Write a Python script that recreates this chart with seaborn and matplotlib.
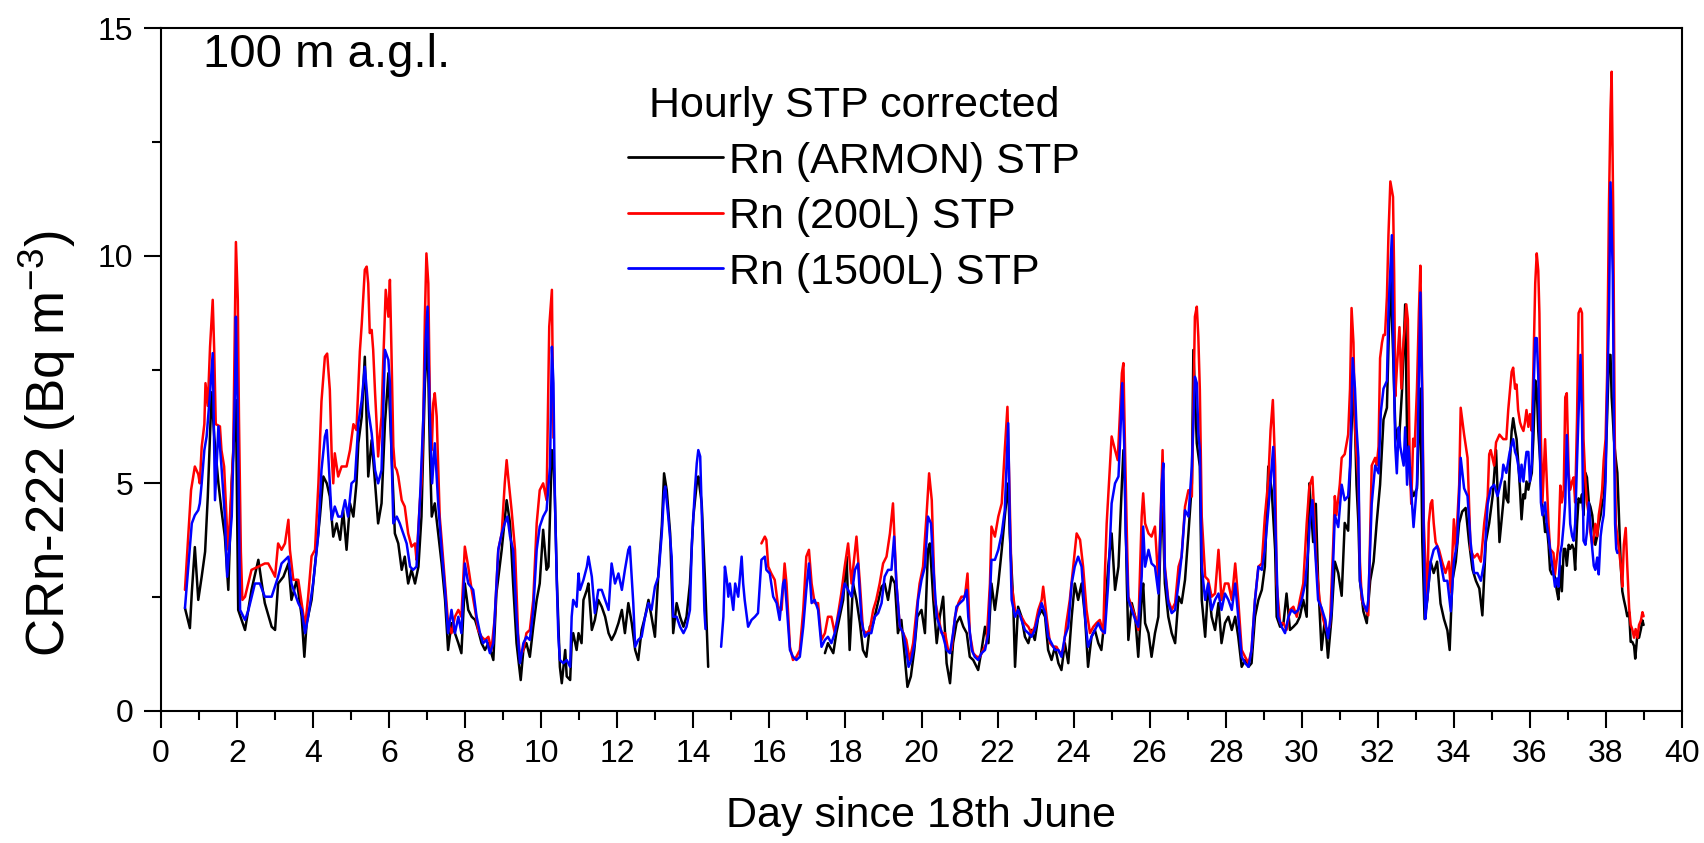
import numpy as np
import pandas as pd
import matplotlib
matplotlib.use("Agg")
import matplotlib.pyplot as plt
from matplotlib.ticker import MultipleLocator
import seaborn as sns

nan = np.nan

# ---------------- data ----------------
armon_day = [0.63,0.76,0.81,0.89,0.98,1.07,1.16,1.23,1.33,1.40,1.51,1.59,1.68,1.77,1.86,1.97,2.03,2.12,2.21,2.38,2.56,2.65,2.73,2.91,3.00,3.08,3.22,3.35,3.43,3.57,3.70,3.77,3.83,3.96,4.09,4.18,4.27,4.36,4.44,4.53,4.62,4.71,4.79,4.88,4.97,5.06,5.14,
    5.19,5.28,5.36,5.45,5.54,5.63,5.71,5.80,5.89,5.98,6.06,6.15,6.24,6.33,6.41,6.50,6.59,6.68,6.77,6.85,6.94,7.01,7.07,7.12,7.20,7.29,7.38,7.47,7.55,7.64,7.73,7.82,7.90,7.99,8.08,8.17,8.26,8.34,8.43,8.52,8.61,8.74,8.82,8.96,9.09,9.18,9.26,9.35,9.46,9.53,9.61,9.70,9.79,9.88,9.96,10.05,10.14,
    10.19,10.28,10.32,10.36,10.41,10.49,10.54,10.63,10.67,10.76,10.80,10.84,10.93,10.98,11.06,11.11,11.20,11.24,11.33,11.41,11.50,11.59,11.68,11.77,11.85,11.94,12.03,12.12,12.20,12.29,12.38,12.47,12.55,12.64,12.73,12.82,12.90,12.99,13.08,13.17,13.23,13.30,13.39,13.47,13.56,13.65,13.74,13.82,13.91,14.00,14.09,14.13,14.22,14.31,14.39,
    15.90,
    17.46,17.54,17.68,17.76,17.85,17.94,18.03,18.11,18.20,18.29,18.38,18.46,18.55,18.64,18.73,18.81,18.95,19.03,19.12,19.21,19.30,19.38,19.47,19.56,19.63,19.72,19.81,19.89,20.00,20.09,20.17,
    20.22,20.31,20.40,20.48,20.57,20.66,20.75,20.83,20.92,21.01,21.10,21.19,21.27,21.36,21.49,21.58,21.67,21.76,21.84,21.93,22.02,22.11,22.19,22.28,22.32,22.41,22.46,22.54,22.63,22.72,22.81,22.89,22.98,23.07,23.16,23.25,23.33,23.42,23.51,23.60,23.68,23.77,23.86,23.95,24.03,24.12,24.21,24.30,24.38,24.47,24.56,24.65,24.73,24.82,24.91,25.00,25.09,
    25.18,25.27,25.31,25.35,25.40,25.44,25.53,25.62,25.70,25.79,25.83,25.88,25.97,26.05,26.14,26.23,26.29,26.34,26.40,26.49,26.58,26.67,26.76,26.84,26.93,27.02,27.11,27.15,27.24,27.32,27.37,27.46,27.54,27.63,27.72,27.81,27.89,27.98,28.07,28.16,28.25,28.33,28.42,28.51,28.60,28.68,28.77,28.86,28.95,29.03,29.12,29.21,29.30,29.34,29.43,29.52,29.60,29.69,29.78,29.87,29.95,30.04,30.13,30.20,
    30.30,30.37,30.43,30.52,30.61,30.69,30.78,30.87,30.96,31.05,31.13,31.22,31.31,31.37,31.44,31.49,31.53,31.62,31.71,31.80,31.89,31.97,32.06,32.15,32.24,32.33,32.40,32.46,32.55,32.64,32.72,32.77,32.86,32.94,33.03,33.12,33.17,33.23,33.30,33.39,33.47,33.56,33.65,33.74,33.83,33.89,33.96,34.05,34.14,34.22,34.31,34.40,34.49,34.58,34.67,34.75,34.84,34.93,35.02,35.11,35.20,
    35.30,35.34,35.38,35.43,35.47,35.52,35.56,35.61,35.65,35.69,35.74,35.78,35.83,35.87,35.91,35.96,36.00,36.05,36.09,36.14,36.18,36.22,36.27,36.31,36.36,36.40,36.44,36.49,36.53,36.58,36.62,36.66,36.71,36.75,36.80,36.84,36.89,36.93,36.97,37.02,37.06,37.11,37.15,37.19,37.24,37.28,37.33,37.37,37.41,37.46,37.50,37.55,37.59,37.64,37.68,37.72,37.77,37.81,37.86,37.90,37.94,37.99,38.03,38.08,38.12,38.15,38.17,38.21,38.25,38.30,38.34,38.39,38.43,38.47,38.52,38.56,38.61,38.65,38.69,38.74,38.77,38.81,38.83,38.87,38.92,38.96,38.99]
armon_val = [2.26,1.82,2.6,3.6,2.44,2.95,3.5,4.7,7.0,6.03,5.0,4.41,3.83,2.66,5.0,6.83,2.22,2.0,1.78,2.66,3.32,2.8,2.37,1.85,1.78,2.8,2.95,3.24,2.44,2.88,2.07,1.19,1.93,2.44,3.54,4.27,5.15,5.0,4.71,3.83,4.12,3.76,4.41,3.54,4.56,4.27,5.0,
    5.88,6.47,7.78,5.15,5.95,5.0,4.12,4.56,6.32,7.42,5.73,3.9,3.68,3.1,3.39,2.8,3.1,2.8,3.17,4.27,7.2,8.22,5.73,4.27,4.56,3.9,3.24,2.44,1.34,1.93,1.71,1.49,1.27,2.8,2.22,2.07,2.0,1.78,1.49,1.34,1.49,1.12,2.58,3.54,4.63,4.12,2.8,1.49,0.68,1.34,1.49,1.19,1.85,2.44,2.8,3.98,3.1,
    3.17,5.73,5.6,4.63,2.88,0.97,0.61,1.34,0.76,0.68,1.49,1.71,1.34,1.71,1.49,2.44,2.66,2.8,1.78,2.0,2.44,2.29,2.07,1.71,1.56,1.71,1.93,2.22,1.71,2.37,1.93,1.34,1.12,1.78,2.07,2.44,2.07,1.63,3.02,4.05,5.22,4.85,3.9,1.71,2.37,2.07,1.85,2.07,2.8,4.27,5.0,5.15,4.56,2.8,0.97,
    nan,
    1.27,1.49,1.27,1.71,2.07,2.44,3.39,1.34,2.8,2.44,1.93,1.34,1.19,1.85,1.93,2.22,2.73,2.8,2.44,2.95,2.8,1.71,2.0,1.19,0.53,0.76,1.34,2.07,2.22,1.71,3.54,
    3.68,2.44,1.49,2.07,2.51,1.05,0.61,1.49,1.93,2.07,1.85,1.71,1.19,1.12,0.90,1.34,1.85,1.49,2.8,2.22,2.8,3.54,4.27,5.0,3.9,2.44,0.97,2.29,2.07,1.63,1.49,1.78,1.56,2.07,2.22,2.07,1.34,1.12,1.41,1.05,0.90,1.49,1.05,2.07,2.8,2.44,2.8,2.07,0.97,1.63,1.78,1.49,1.34,2.07,3.17,3.9,2.66,
    3.17,5.0,5.73,5.0,2.8,1.56,2.37,2.07,1.19,2.44,2.8,1.93,1.71,1.19,1.71,2.07,3.9,4.49,2.8,2.07,1.71,1.49,2.51,2.37,2.88,3.9,5.0,7.93,5.88,5.37,2.44,1.63,2.8,2.07,1.78,2.37,1.49,1.93,2.07,1.78,2.07,1.63,0.97,1.12,0.97,1.05,2.07,2.44,2.66,3.17,5.37,4.85,3.54,2.07,1.85,1.93,2.58,1.78,1.85,1.93,2.07,2.44,2.07,5.0,
    3.71,4.55,2.86,1.34,2.02,1.17,2.02,3.28,3.03,2.53,4.13,3.96,6.23,7.25,4.97,4.13,2.86,2.19,1.93,2.86,3.28,4.13,4.97,6.40,6.66,9.61,7.92,6.23,5.81,7.08,8.93,6.07,4.97,4.72,4.89,7.08,3.71,2.02,2.44,3.28,3.03,3.28,2.36,2.02,1.77,1.34,2.86,3.28,4.13,4.38,4.46,3.71,3.11,2.86,2.69,2.10,3.71,4.13,4.72,5.73,3.71,
    4.58,5.04,4.67,4.58,5.41,6.15,6.43,6.15,5.97,5.50,4.86,4.21,4.76,4.67,5.04,4.86,5.04,5.23,5.97,7.26,7.08,6.15,5.50,4.58,4.30,3.93,4.11,3.65,3.10,3.0,3.10,2.91,2.63,2.45,3.19,2.63,3.56,3.56,3.19,3.65,3.56,3.65,3.56,3.10,4.11,4.67,4.58,4.76,4.30,5.23,5.13,4.58,4.49,4.30,3.93,3.65,3.84,4.11,4.30,4.58,4.67,5.41,6.43,7.82,7.82,6.89,6.61,5.97,5.60,5.23,4.30,3.19,2.63,2.45,2.26,2.08,2.17,1.52,1.52,1.43,1.15,1.52,1.71,1.61,1.80,1.99,1.89]

l200_day = [0.63,0.79,0.89,0.98,1.02,1.07,1.14,1.17,1.23,1.29,1.36,1.40,1.44,1.55,1.59,1.66,1.73,1.77,1.90,1.95,1.97,2.02,2.05,2.10,2.14,2.21,2.38,2.56,2.73,2.82,2.91,3.00,3.08,3.17,3.26,3.35,3.39,3.48,3.61,3.70,3.79,3.87,3.96,4.05,4.14,4.22,4.31,4.37,4.44,4.49,4.53,4.57,4.66,4.75,4.88,4.97,5.06,5.14,5.23,
    5.28,5.36,5.41,5.45,5.49,5.54,5.58,5.63,5.67,5.71,5.76,5.80,5.84,5.91,5.98,6.02,6.06,6.11,6.15,6.20,6.24,6.33,6.41,6.50,6.59,6.68,6.72,6.81,6.85,6.90,6.94,6.98,7.03,7.07,7.12,7.16,7.20,7.25,7.29,7.33,7.38,7.47,7.55,7.64,7.73,7.82,7.90,7.99,8.08,8.17,8.26,8.34,8.43,8.52,8.61,8.69,8.78,8.87,8.96,9.04,9.09,9.13,9.22,9.31,9.39,9.44,9.53,9.61,9.70,9.79,9.88,9.96,10.05,10.14,10.21,10.28,10.32,
    13.00,
    15.79,15.88,15.92,15.97,16.05,16.14,16.23,16.32,16.40,16.45,16.54,16.62,16.71,16.80,16.89,16.97,17.04,17.11,17.19,17.28,17.37,17.46,17.54,17.63,17.72,17.81,17.89,17.98,18.07,18.16,18.29,18.38,18.46,18.55,18.64,18.73,18.81,18.90,18.99,19.08,19.17,19.25,19.34,19.43,19.52,19.60,19.69,19.78,19.87,19.95,20.04,20.13,20.20,
    20.27,20.31,20.35,20.44,20.53,20.62,20.70,20.79,20.88,20.97,21.05,21.14,21.21,21.27,21.36,21.45,21.54,21.62,21.71,21.80,21.84,21.93,22.02,22.11,22.19,22.26,22.32,22.37,22.46,22.54,22.63,22.72,22.81,22.89,22.98,23.07,23.16,23.20,23.29,23.38,23.46,23.55,23.64,23.73,23.81,23.90,23.99,24.08,24.17,24.25,24.34,24.43,24.52,24.60,24.69,24.78,24.82,24.87,25.00,25.09,25.16,25.22,
    25.27,25.31,25.35,25.40,25.44,25.53,25.62,25.70,25.79,25.83,25.88,25.97,26.05,26.14,26.23,26.29,26.34,26.40,26.49,26.58,26.67,26.76,26.84,26.93,27.02,27.11,27.19,27.24,27.28,27.32,27.37,27.46,27.54,27.63,27.72,27.81,27.89,27.98,28.07,28.16,28.25,28.33,28.42,28.51,28.60,28.68,28.77,28.86,28.95,29.03,29.12,29.18,29.24,29.30,29.34,29.43,29.52,29.60,29.69,29.78,29.87,29.95,30.04,30.13,30.20,
    30.28,30.34,30.38,30.47,30.56,30.65,30.74,30.83,30.87,30.91,31.00,31.05,31.13,31.22,31.27,31.31,31.36,31.40,31.44,31.49,31.53,31.58,31.66,31.75,31.84,31.93,31.97,32.02,32.06,32.11,32.15,32.19,32.24,32.28,32.33,32.40,32.43,32.46,32.50,32.57,32.62,32.66,32.71,32.75,32.79,32.84,32.88,32.93,32.97,33.03,33.08,33.12,33.17,33.21,33.25,33.30,33.34,33.39,33.43,33.47,33.52,33.61,33.69,33.78,33.87,33.92,34.00,34.05,34.14,34.18,34.22,34.27,34.36,34.40,34.44,34.53,34.62,34.71,34.80,34.89,34.93,34.97,35.06,35.11,35.20,
    35.30,35.38,35.43,35.52,35.56,35.61,35.65,35.69,35.74,35.78,35.83,35.87,35.91,35.96,36.00,36.05,36.09,36.14,36.18,36.22,36.25,36.29,36.33,36.40,36.44,36.49,36.53,36.62,36.66,36.71,36.75,36.80,36.84,36.89,36.93,36.97,37.02,37.06,37.11,37.15,37.19,37.24,37.28,37.33,37.37,37.41,37.46,37.50,37.55,37.59,37.64,37.68,37.72,37.77,37.81,37.86,37.90,37.94,37.99,38.03,38.08,38.12,38.15,38.19,38.23,38.26,38.30,38.34,38.39,38.43,38.47,38.52,38.56,38.61,38.65,38.69,38.74,38.78,38.83,38.87,38.92,38.96,38.99]
l200_val = [2.66,4.85,5.37,5.2,5.0,5.8,6.3,7.2,6.7,8.0,9.03,7.9,6.3,6.25,5.73,5.37,4.1,3.54,5.73,9.03,10.3,9.03,6.47,3.5,2.44,2.51,3.1,3.17,3.24,3.24,3.1,2.95,3.68,3.54,3.68,4.2,3.54,2.88,2.88,2.37,1.85,2.51,3.4,3.54,5.0,6.8,7.78,7.85,7.05,5.59,5.0,5.66,5.15,5.37,5.37,5.73,6.3,6.17,7.9,
    8.51,9.69,9.76,9.39,8.3,8.37,7.93,6.98,6.32,5.59,6.1,6.47,7.56,9.25,8.66,9.47,7.93,5.81,5.37,5.29,5.15,4.63,4.49,3.9,3.61,3.68,3.32,4.63,5.0,6.47,8.66,10.05,9.39,6.83,5.73,6.76,6.98,6.47,5.37,4.27,3.76,2.8,1.93,1.71,2.07,2.22,2.07,3.61,3.17,2.66,2.22,1.78,1.63,1.56,1.63,1.34,2.07,3.54,3.9,5.0,5.51,5.15,4.41,3.54,1.71,1.19,1.34,1.71,1.78,2.44,4.12,4.85,5.0,4.63,8.44,9.25,6.0,
    nan,
    3.68,3.83,3.76,3.17,3.02,2.88,2.29,2.22,3.24,2.8,1.41,1.12,1.19,1.34,2.22,3.39,3.54,2.8,2.37,2.37,1.56,1.71,2.07,2.07,1.71,2.15,2.58,3.17,3.68,2.8,3.83,2.80,1.78,1.71,1.78,2.22,2.44,2.8,3.24,3.39,3.90,4.56,2.8,1.85,1.71,1.56,1.12,1.49,2.22,2.8,3.17,4.27,5.22,
    4.63,3.54,2.44,2.07,1.71,1.71,1.34,1.34,2.07,2.37,2.51,2.51,3.02,1.71,1.27,1.19,1.19,1.34,1.49,2.8,4.05,3.83,4.27,4.56,5.73,6.68,4.63,2.8,2.22,2.15,2.07,1.93,1.85,1.71,1.85,2.22,2.44,2.73,2.07,1.49,1.41,1.41,1.27,1.34,1.93,2.44,3.17,3.9,3.76,3.17,2.22,1.71,1.85,1.93,2.0,1.71,2.95,4.12,6.03,5.73,5.51,6.54,
    7.42,7.64,5.88,3.9,2.51,2.29,2.07,1.78,4.27,4.78,4.12,3.9,3.83,4.05,2.8,4.27,5.73,3.17,2.44,2.22,2.37,3.17,3.39,4.49,4.85,4.71,8.66,8.88,8.22,7.05,4.27,2.95,2.88,2.51,2.58,3.54,2.44,2.8,2.8,2.44,3.24,2.44,1.34,1.19,1.05,1.34,2.44,3.17,3.24,4.27,5.07,6.17,6.83,5.37,2.8,1.93,1.93,1.78,2.22,2.29,2.07,2.44,2.8,4.12,4.93,
    5.14,4.13,3.28,2.44,2.02,1.77,1.85,3.71,4.72,4.30,4.97,5.56,5.64,6.07,7.08,8.85,8.09,6.23,5.64,5.05,3.28,2.44,2.27,2.10,5.39,5.56,5.39,5.81,7.75,8.09,8.26,8.26,9.1,10.45,11.63,11.29,9.61,6.91,7.50,8.43,7.08,7.92,8.43,8.93,8.60,5.39,4.55,5.98,5.81,7.08,8.76,9.78,7.08,4.13,3.28,2.44,4.13,4.55,4.63,4.13,3.71,3.54,3.28,3.03,3.28,2.61,4.21,3.54,4.97,6.66,6.40,6.07,5.56,4.55,3.54,3.37,3.45,3.28,4.13,4.72,5.64,5.73,5.39,5.90,6.07,
    5.97,5.97,6.61,7.45,7.54,7.08,7.17,6.61,6.34,6.24,6.15,6.34,6.61,6.24,6.52,6.15,7.45,9.39,10.05,9.67,8.74,5.97,4.58,5.97,5.13,4.11,3.56,3.47,3.0,3.37,3.65,4.95,4.58,4.86,6.89,6.98,5.23,4.86,5.04,5.13,4.58,6.43,8.74,8.84,8.74,5.97,5.04,4.58,4.30,3.93,3.65,3.84,4.11,3.84,4.30,4.58,4.86,5.50,5.97,7.36,11.15,13.19,14.04,11.06,6.15,4.11,3.84,3.56,3.19,2.73,3.65,4.02,3.19,2.26,1.89,1.80,1.61,1.80,1.61,1.89,1.99,2.17,2.08]

l1500_day = [0.63,0.81,0.89,0.98,1.02,1.07,1.14,1.20,1.29,1.36,1.42,1.51,1.59,1.68,1.74,1.86,1.95,1.97,2.02,2.08,2.21,2.30,2.47,2.60,2.73,2.91,3.08,3.17,3.35,3.43,3.61,3.70,3.79,3.87,4.00,4.14,4.22,4.31,4.36,4.44,4.49,4.57,4.66,4.75,4.84,4.92,5.01,5.10,5.19,
    5.28,5.36,5.41,5.45,5.54,5.63,5.71,5.80,5.89,5.98,6.02,6.06,6.11,6.20,6.28,6.37,6.46,6.55,6.63,6.72,6.81,6.90,6.96,7.01,7.07,7.13,7.20,7.29,7.38,7.47,7.55,7.64,7.73,7.82,7.90,7.99,8.08,8.21,8.30,8.39,8.47,8.56,8.65,8.74,8.87,8.96,9.04,9.11,9.18,9.26,9.35,9.44,9.53,9.61,9.70,9.79,9.88,9.96,10.05,10.14,
    10.23,10.28,10.32,10.36,10.41,10.45,10.49,10.58,10.67,10.76,10.80,10.84,10.93,10.98,11.02,11.11,11.20,11.24,11.33,11.41,11.50,11.59,11.68,11.77,11.85,11.94,12.03,12.12,12.20,12.29,12.33,12.42,12.47,12.55,12.64,12.73,12.82,12.90,12.99,13.08,13.17,13.23,13.26,13.34,13.43,13.47,13.56,13.65,13.74,13.82,13.91,13.96,14.04,14.09,14.13,14.18,14.22,14.29,14.32,
    14.50,
    14.73,14.79,14.83,14.88,14.92,14.96,15.05,15.10,15.18,
    15.27,15.31,15.35,15.44,15.53,15.62,15.70,15.79,15.88,15.92,16.01,16.10,16.19,16.27,16.36,16.40,16.45,16.54,16.62,16.71,16.80,16.89,16.97,17.04,17.11,17.19,17.28,17.37,17.46,17.54,17.63,17.72,17.81,17.89,17.98,18.07,18.16,18.25,18.33,18.42,18.51,18.60,18.68,18.77,18.86,18.95,19.03,19.12,19.21,19.28,19.34,19.43,19.52,19.60,19.66,19.73,19.82,19.91,20.00,20.09,20.17,
    20.25,20.31,20.40,20.48,20.57,20.66,20.75,20.83,20.92,21.01,21.10,21.19,21.23,21.32,21.40,21.49,21.58,21.67,21.76,21.84,21.93,22.02,22.11,22.19,22.28,22.32,22.37,22.46,22.54,22.63,22.72,22.81,22.89,22.98,23.07,23.16,23.25,23.33,23.42,23.51,23.60,23.68,23.77,23.86,23.95,24.03,24.12,24.21,24.30,24.38,24.47,24.56,24.65,24.73,24.82,24.91,25.00,25.09,
    25.18,25.22,25.28,25.33,25.37,25.44,25.53,25.62,25.70,25.79,25.83,25.88,25.97,26.05,26.14,26.23,26.32,26.36,26.40,26.49,26.58,26.67,26.76,26.84,26.93,27.02,27.11,27.19,27.24,27.28,27.32,27.37,27.46,27.54,27.63,27.72,27.81,27.89,27.98,28.07,28.16,28.25,28.33,28.42,28.51,28.60,28.68,28.77,28.86,28.95,29.03,29.12,29.21,29.25,29.30,29.38,29.47,29.56,29.65,29.73,29.82,29.91,30.00,30.09,30.17,
    30.21,30.28,30.34,30.43,30.52,30.61,30.69,30.78,30.87,30.96,31.05,31.13,31.22,31.27,31.34,31.40,31.44,31.49,31.53,31.62,31.71,31.75,31.84,31.93,32.02,32.08,32.15,32.24,32.28,32.37,32.41,32.46,32.50,32.55,32.59,32.68,32.72,32.77,32.81,32.90,32.94,33.03,33.12,33.17,33.21,33.25,33.30,33.39,33.47,33.56,33.65,33.74,33.83,33.92,34.00,34.09,34.18,34.27,34.36,34.44,34.53,34.62,34.71,34.80,34.89,34.97,35.06,35.15,35.27,
    35.30,35.38,35.47,35.56,35.61,35.65,35.69,35.74,35.78,35.83,35.87,35.91,35.96,36.00,36.05,36.09,36.14,36.18,36.22,36.25,36.29,36.33,36.40,36.44,36.49,36.53,36.62,36.66,36.71,36.75,36.80,36.84,36.89,36.93,36.97,37.02,37.06,37.11,37.15,37.19,37.24,37.28,37.33,37.37,37.41,37.46,37.50,37.55,37.59,37.64,37.68,37.72,37.77,37.81,37.86,37.90,37.94,37.99,38.03,38.08,38.12,38.15,38.18,38.21,38.24,38.27,38.30]
l1500_val = [2.26,4.12,4.3,4.41,4.56,5.0,5.73,6.03,6.98,7.86,4.63,6.25,5.37,4.27,2.95,4.27,7.2,8.66,6.47,2.22,2.0,2.22,2.8,2.8,2.51,2.51,2.95,3.24,3.39,2.8,2.37,2.22,1.71,2.07,2.8,3.9,5.29,6.03,6.17,5.0,4.2,4.49,4.27,4.27,4.63,4.27,5.0,5.07,6.32,
    6.83,7.56,7.05,6.61,6.1,5.29,5.0,5.29,7.93,7.71,7.2,5.73,4.12,4.27,4.12,3.9,3.68,3.17,3.10,3.17,4.63,6.47,8.15,8.88,6.47,5.0,5.88,4.56,3.54,2.66,1.71,2.22,1.71,2.07,1.71,3.24,2.8,2.66,2.07,1.71,1.49,1.56,1.27,1.49,3.54,3.9,4.12,4.27,3.83,3.54,2.07,1.05,1.49,1.63,1.56,2.22,3.54,4.05,4.27,4.41,
    5.37,8.0,7.2,4.63,2.8,1.63,1.12,1.05,1.12,0.97,2.07,2.44,2.29,3.02,2.66,2.88,3.17,3.39,2.95,2.15,2.66,2.66,2.44,2.22,3.24,2.8,3.02,2.66,3.10,3.54,3.61,2.37,1.41,1.56,1.63,2.07,2.37,2.22,2.73,2.95,3.9,4.8,4.93,4.27,3.39,2.07,2.07,1.85,1.71,1.85,2.22,3.68,4.85,5.44,5.73,5.59,4.41,2.22,1.8,
    nan,
    1.41,2.07,3.17,2.88,2.51,2.8,2.22,2.8,2.51,
    3.39,2.8,2.44,1.85,2.0,2.07,2.15,3.32,3.39,3.1,3.02,2.51,2.37,2.0,2.8,2.88,2.37,1.34,1.19,1.12,1.19,1.85,2.66,3.24,2.37,2.44,2.22,1.41,1.56,1.63,1.49,1.71,2.07,2.37,2.8,2.66,2.51,3.10,3.24,2.0,1.63,1.71,1.71,2.07,2.15,2.37,2.95,3.10,3.10,3.83,2.8,1.85,1.71,1.34,0.97,1.12,1.49,2.44,2.88,3.17,4.27,
    4.12,3.17,2.07,1.85,1.63,1.34,1.27,1.71,2.29,2.37,2.44,2.66,2.07,1.34,1.19,1.12,1.27,1.34,1.71,3.32,3.32,3.54,3.9,4.41,6.32,4.27,2.44,2.07,2.22,2.0,1.78,1.71,1.63,1.78,2.07,2.37,2.15,1.63,1.49,1.34,1.34,1.19,1.63,1.85,2.8,3.17,3.39,3.17,2.07,1.41,1.63,1.78,1.93,1.78,1.71,2.8,4.56,5.0,
    5.15,5.88,7.2,5.88,3.9,2.44,2.22,2.0,1.85,2.95,4.05,3.17,3.54,3.24,3.17,2.58,5.0,5.44,3.10,2.37,2.15,2.22,2.8,3.39,4.41,4.27,5.37,7.34,7.2,6.1,5.73,3.17,2.44,2.8,2.22,2.44,2.58,2.22,2.58,2.44,2.22,2.8,2.07,1.19,1.05,0.97,1.34,2.44,3.17,3.10,3.54,4.41,5.37,5.8,4.27,2.07,1.85,1.71,2.07,2.22,2.15,2.22,2.44,2.8,3.54,
    4.13,4.63,3.71,2.44,2.27,2.02,1.60,2.19,4.30,4.04,4.97,4.63,4.72,5.39,7.75,7.08,6.23,5.56,2.86,2.36,2.19,2.44,4.55,5.39,5.22,6.57,7.08,7.25,8.76,10.45,7.92,5.81,5.22,6.23,5.81,5.39,6.23,4.97,5.81,4.55,4.04,4.97,9.19,6.66,3.71,2.02,2.44,3.28,3.54,3.62,3.28,2.86,2.86,2.19,3.28,3.71,5.56,4.89,4.72,3.71,3.03,3.03,2.86,3.28,4.55,4.89,4.97,4.72,5.14,
    5.41,5.23,5.69,5.97,5.69,5.60,5.41,5.04,5.41,5.04,5.41,5.69,5.69,5.04,5.41,6.89,8.19,8.19,7.36,6.24,4.58,4.30,4.58,4.11,3.84,3.56,3.0,2.73,2.91,2.73,3.47,3.65,4.11,4.58,6.06,5.04,4.11,3.84,3.74,4.11,5.50,6.52,7.82,6.43,3.74,3.65,3.93,4.58,4.11,3.56,3.19,3.10,3.37,3.0,3.84,4.11,4.30,5.04,6.89,8.74,11.61,10.6,9.58,6.24,4.11,3.56,3.47]

series_names = ["Rn (ARMON) STP", "Rn (200L) STP", "Rn (1500L) STP"]
series_colors = ["#000000", "#ff0000", "#0000ff"]
legend_title = "Hourly STP corrected"
height_note = "100 m a.g.l."
x_label = "Day since 18th June"
y_label = r"CRn-222 (Bq m$^{\mathregular{-3}}$)"
x_ticks = list(range(0, 41, 2))
y_ticks = [0, 5, 10, 15]

# ---------------- build long table (NaN marks a data gap) ----------------
frames = []
for name, d, v in zip(series_names,
                      [armon_day, l200_day, l1500_day],
                      [armon_val, l200_val, l1500_val]):
    assert len(d) == len(v), (name, len(d), len(v))
    df = pd.DataFrame({"day": d, "value": v})
    df["seg"] = df["value"].isna().cumsum()
    df = df.dropna()
    df["series"] = name
    df["unit"] = name + "_" + df["seg"].astype(str)
    frames.append(df)
data = pd.concat(frames, ignore_index=True)

# ---------------- style ----------------
sns.set_style("ticks")
plt.rcParams["font.family"] = ["Liberation Sans", "DejaVu Sans"]
plt.rcParams["mathtext.fontset"] = "custom"
plt.rcParams["mathtext.rm"] = "Liberation Sans"
plt.rcParams["mathtext.it"] = "Liberation Sans:italic"
plt.rcParams["mathtext.bf"] = "Liberation Sans:bold"
for key in ["text.color", "axes.labelcolor", "xtick.color", "ytick.color",
            "axes.edgecolor"]:
    plt.rcParams[key] = "black"

fig = plt.figure(figsize=(17.04, 8.43), dpi=100)
ax = fig.add_axes([161/1704, 1-711/843, 1521/1704, 683/843])

sns.lineplot(data=data, x="day", y="value", hue="series", units="unit",
             estimator=None, hue_order=series_names,
             palette=dict(zip(series_names, series_colors)),
             linewidth=1.8, ax=ax, legend=True, sort=False)

ax.set_xlim(0, 40)
ax.set_ylim(0, 15)
ax.set_xticks(x_ticks)
ax.set_yticks(y_ticks)
ax.xaxis.set_minor_locator(MultipleLocator(1))
ax.yaxis.set_minor_locator(MultipleLocator(2.5))
ax.tick_params(axis="both", which="major", direction="out", length=12,
               width=1.5, labelsize=23, color="black", labelcolor="black")
ax.tick_params(axis="x", which="major", pad=8)
ax.tick_params(axis="y", which="major", pad=8)
ax.tick_params(axis="both", which="minor", direction="out", length=6.5,
               width=1.5, color="black")
for sp in ax.spines.values():
    sp.set_visible(True)
    sp.set_linewidth(1.5)
    sp.set_color("black")

ax.set_xlabel(x_label, fontsize=31, color="black")
ax.xaxis.set_label_coords(0.5, -0.125)
ax.set_ylabel(y_label, fontsize=38, color="black")
ax.yaxis.label.set_va("baseline")
ax.yaxis.set_label_coords(-0.063, 0.392)

ax.text(1.10, 14.15, height_note, fontsize=34, ha="left", va="baseline",
        color="black")

handles, labels = ax.get_legend_handles_labels()
for h in handles:
    h.set_linewidth(2.0)
leg = ax.legend(handles, labels, title=legend_title, loc="upper left",
                bbox_to_anchor=(0.307, 0.915), frameon=False, fontsize=31,
                title_fontsize=31, borderpad=0, borderaxespad=0,
                handlelength=2.2, handletextpad=0.15, labelspacing=0.36)
for t in leg.get_texts():
    t.set_color("black")
leg.get_title().set_color("black")

fig.savefig("out.png", dpi=100)
